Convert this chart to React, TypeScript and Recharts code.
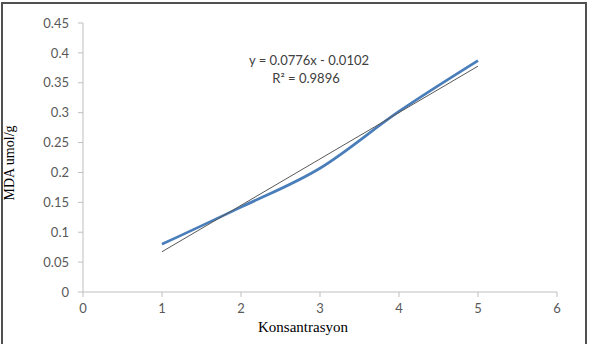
import React from "react";
import { LineChart, Line, XAxis, YAxis } from "recharts";

const concentrations = [1, 2, 3, 4, 5];
const mdaValues = [0.08, 0.142, 0.207, 0.302, 0.387];
const trendX = [1, 5];
const trendValues = [0.0674, 0.3778];
const xTicks = [0, 1, 2, 3, 4, 5, 6];
const yTicks = [0, 0.05, 0.1, 0.15, 0.2, 0.25, 0.3, 0.35, 0.4, 0.45];
const equationText = "y = 0.0776x - 0.0102";
const r2Text = "R² = 0.9896";
const xTitle = "Konsantrasyon";
const yTitle = "MDA umol/g";

const mainData = concentrations.map((x, i) => ({ x, y: mdaValues[i] }));
const trendData = trendX.map((x, i) => ({ x, t: trendValues[i] }));

const tickStyle = { fontFamily: "Lato, 'Open Sans', sans-serif", fontSize: 13, fill: "#595959" };
const fmt = (v: number) => String(Number(v.toFixed(2)));

export default function App() {
  return (
    <div style={{ position: "absolute", left: 0, top: 0, width: 589, height: 344, background: "#fff", overflow: "hidden" }}>
      <div
        style={{
          position: "absolute",
          left: 1,
          top: 2,
          width: 582,
          height: 360,
          border: "2px solid #505050",
          boxSizing: "content-box",
        }}
      />
      <div style={{ position: "absolute", left: 0, top: 0 }}>
        <LineChart width={589} height={344} margin={{ top: 23, right: 32, bottom: 22, left: 23 }}>
          <XAxis
            dataKey="x"
            type="number"
            domain={[0, 6]}
            ticks={xTicks}
            allowDuplicatedCategory={false}
            stroke="#bfbfbf"
            tickSize={5}
            tickMargin={7}
            tick={tickStyle}
            height={30}
            tickFormatter={fmt}
          />
          <YAxis
            type="number"
            domain={[0, 0.45]}
            ticks={yTicks}
            stroke="#bfbfbf"
            tickSize={5}
            tickMargin={9}
            tick={tickStyle}
            width={60}
            tickFormatter={fmt}
          />
          <Line
            data={mainData}
            dataKey="y"
            type="monotone"
            stroke="#4a7ebb"
            strokeWidth={2.75}
            dot={false}
            isAnimationActive={false}
          />
          <Line
            data={trendData}
            dataKey="t"
            type="linear"
            stroke="#595959"
            strokeWidth={1}
            dot={false}
            isAnimationActive={false}
          />
        </LineChart>
      </div>
      <div style={{ position: "absolute", left: 0, top: 0, pointerEvents: "none" }}>
        <svg width={589} height={344}>
          <text x={309} y={65} textAnchor="middle" style={{ ...tickStyle, fill: "#404040" }}>{equationText}</text>
          <text x={306} y={83} textAnchor="middle" style={{ ...tickStyle, fill: "#404040" }}>{r2Text}</text>
          <text x={303} y={332} textAnchor="middle" style={{ fontFamily: "'Liberation Serif', serif", fontSize: 15, fill: "#000" }}>{xTitle}</text>
          <text
            x={14}
            y={163}
            textAnchor="middle"
            transform="rotate(-90 14 163)"
            style={{ fontFamily: "'Liberation Serif', serif", fontSize: 14, fill: "#000" }}
          >
            {yTitle}
          </text>
        </svg>
      </div>
    </div>
  );
}
